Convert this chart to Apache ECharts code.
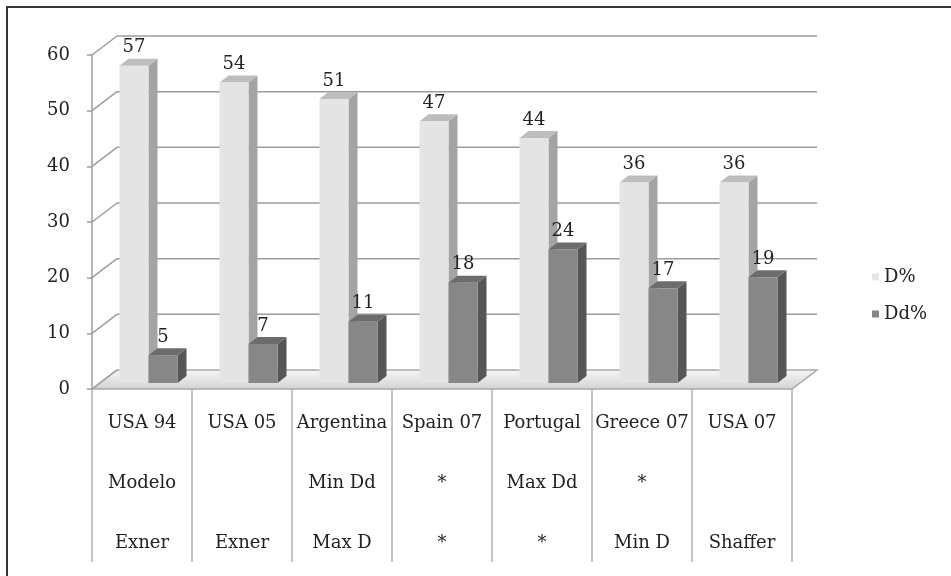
<!DOCTYPE html>
<html>
<head>
<meta charset="UTF-8">
<title>D% / Dd%</title>
<script src="https://cdn.jsdelivr.net/npm/echarts@6/dist/echarts.min.js"></script>
<style>
  html, body { margin: 0; padding: 0; background: #fff; }
  #main { width: 951px; height: 576px; }
</style>
</head>
<body>
<div id="main"></div>
<script type="text/javascript">
// table rows under the bars
var categories = ['USA 94', 'USA 05', 'Argentina', 'Spain 07', 'Portugal', 'Greece 07', 'USA 07'];
var methodRow = ['Modelo', '', 'Min Dd', '*', 'Max Dd', '*', ''];
var sourceRow = ['Exner', 'Exner', 'Max D', '*', '*', 'Min D', 'Shaffer'];
// values
var dValues = [57, 54, 51, 47, 44, 36, 36];
var ddValues = [5, 7, 11, 18, 24, 17, 19];
var yTicks = [0, 10, 20, 30, 40, 50, 60];

var FONT = 'DejaVu Serif';
// depth of the back wall and of the bars (pseudo 3d)
var WALL_DX = 25, WALL_DY = -19;
var BAR_DX = 6.5, BAR_DY = -6, BAR_W = 29, CAP_DX = 9, CAP_DY = -7;

var colors = [
    { front: '#e4e4e4', side: '#a4a4a4', top: '#bdbdbd' },
    { front: '#878787', side: '#565656', top: '#6c6c6c' }
];

var myChart = echarts.init(document.getElementById('main'));

function renderWall(params, api) {
    var cs = params.coordSys;
    var v = api.value(1);
    var y = api.coord([0, v])[1];
    var left = cs.x, right = cs.x + cs.width;
    var kids = [];
    var grid = { stroke: '#9c9c9c', lineWidth: 1.5 };
    if (v === 0) {
        kids.push({
            type: 'polygon',
            shape: { points: [[left, y], [left + WALL_DX, y + WALL_DY], [right + WALL_DX, y + WALL_DY], [right, y]] },
            style: {
                fill: new echarts.graphic.LinearGradient(0, 0, 0, 1, [
                    { offset: 0, color: '#f7f7f7' },
                    { offset: 1, color: '#d2d2d2' }
                ]),
                stroke: '#a8a8a8', lineWidth: 1.5
            }
        });
    } else {
        kids.push({ type: 'line', shape: { x1: left + WALL_DX, y1: y + WALL_DY, x2: right + WALL_DX, y2: y + WALL_DY }, style: grid });
    }
    kids.push({ type: 'line', shape: { x1: left, y1: y, x2: left + WALL_DX, y2: y + WALL_DY }, style: grid });
    return { type: 'group', children: kids };
}

function makeBarRender(s) {
    return function (params, api) {
        var idx = api.value(0);
        var base = api.coord([idx, 0]);
        var top = api.coord([idx, api.value(1)]);
        var cx = base[0] + BAR_DX;
        var x0 = s === 0 ? cx - BAR_W : cx;
        var x1 = x0 + BAR_W;
        var yb = base[1] + BAR_DY;
        var yt = top[1] + BAR_DY;
        var c = colors[s];
        return {
            type: 'group',
            children: [
                { type: 'polygon', shape: { points: [[x1, yt], [x1 + CAP_DX, yt + CAP_DY], [x1 + CAP_DX, yb + CAP_DY], [x1, yb]] }, style: { fill: c.side } },
                { type: 'polygon', shape: { points: [[x0, yt], [x0 + CAP_DX, yt + CAP_DY], [x1 + CAP_DX, yt + CAP_DY], [x1, yt]] }, style: { fill: c.top } },
                { type: 'rect', shape: { x: x0, y: yt, width: BAR_W, height: yb - yt }, style: { fill: c.front } },
                { type: 'text', style: { text: String(api.value(1)), x: x0 + BAR_W / 2, y: yt - 18, align: 'center', verticalAlign: 'middle', font: '18px "' + FONT + '"', fill: '#222' } }
            ]
        };
    };
}

var option = {
    animation: false,
    graphic: [{
        type: 'rect',
        shape: { x: 7, y: 7, width: 1000, height: 1000 },
        style: { fill: 'none', stroke: '#333', lineWidth: 2 },
        silent: true
    }],
    legend: {
        data: ['D%', 'Dd%'],
        orient: 'vertical',
        left: 867,
        top: 263,
        icon: 'rect',
        itemWidth: 7,
        itemHeight: 7,
        itemGap: 19,
        textStyle: { fontFamily: FONT, fontSize: 18, color: '#222' }
    },
    grid: { left: 92, top: 55, width: 700, height: 334 },
    xAxis: {
        type: 'category',
        data: categories,
        axisLine: { show: false },
        axisTick: { show: true, length: 173, lineStyle: { color: '#b0b0b0', width: 1.5 } },
        axisLabel: {
            interval: 0,
            margin: 4,
            fontFamily: FONT,
            fontSize: 18,
            color: '#222',
            lineHeight: 60,
            verticalAlign: 'top',
            formatter: function (value, index) {
                return [value, methodRow[index] || ' ', sourceRow[index]].join('\n');
            }
        }
    },
    yAxis: {
        type: 'value',
        min: 0,
        max: 60,
        interval: 10,
        splitLine: { show: false },
        axisLine: { show: true, lineStyle: { color: '#9c9c9c', width: 1.5 } },
        axisTick: { show: true, length: 5, lineStyle: { color: '#9c9c9c', width: 1.5 } },
        axisLabel: { margin: 22, padding: [4, 0, 0, 0], fontFamily: FONT, fontSize: 18, color: '#222' }
    },
    series: [
        {
            name: 'wall',
            type: 'custom',
            z: 1,
            silent: true,
            clip: false,
            renderItem: renderWall,
            data: yTicks.map(function (v) { return [0, v]; })
        },
        {
            name: 'D%',
            type: 'custom',
            z: 3,
            clip: false,
            itemStyle: { color: '#e4e4e4' },
            renderItem: makeBarRender(0),
            data: dValues.map(function (v, i) { return [i, v]; })
        },
        {
            name: 'Dd%',
            type: 'custom',
            z: 4,
            clip: false,
            itemStyle: { color: '#878787' },
            renderItem: makeBarRender(1),
            data: ddValues.map(function (v, i) { return [i, v]; })
        }
    ]
};
myChart.setOption(option);
</script>
</body>
</html>
